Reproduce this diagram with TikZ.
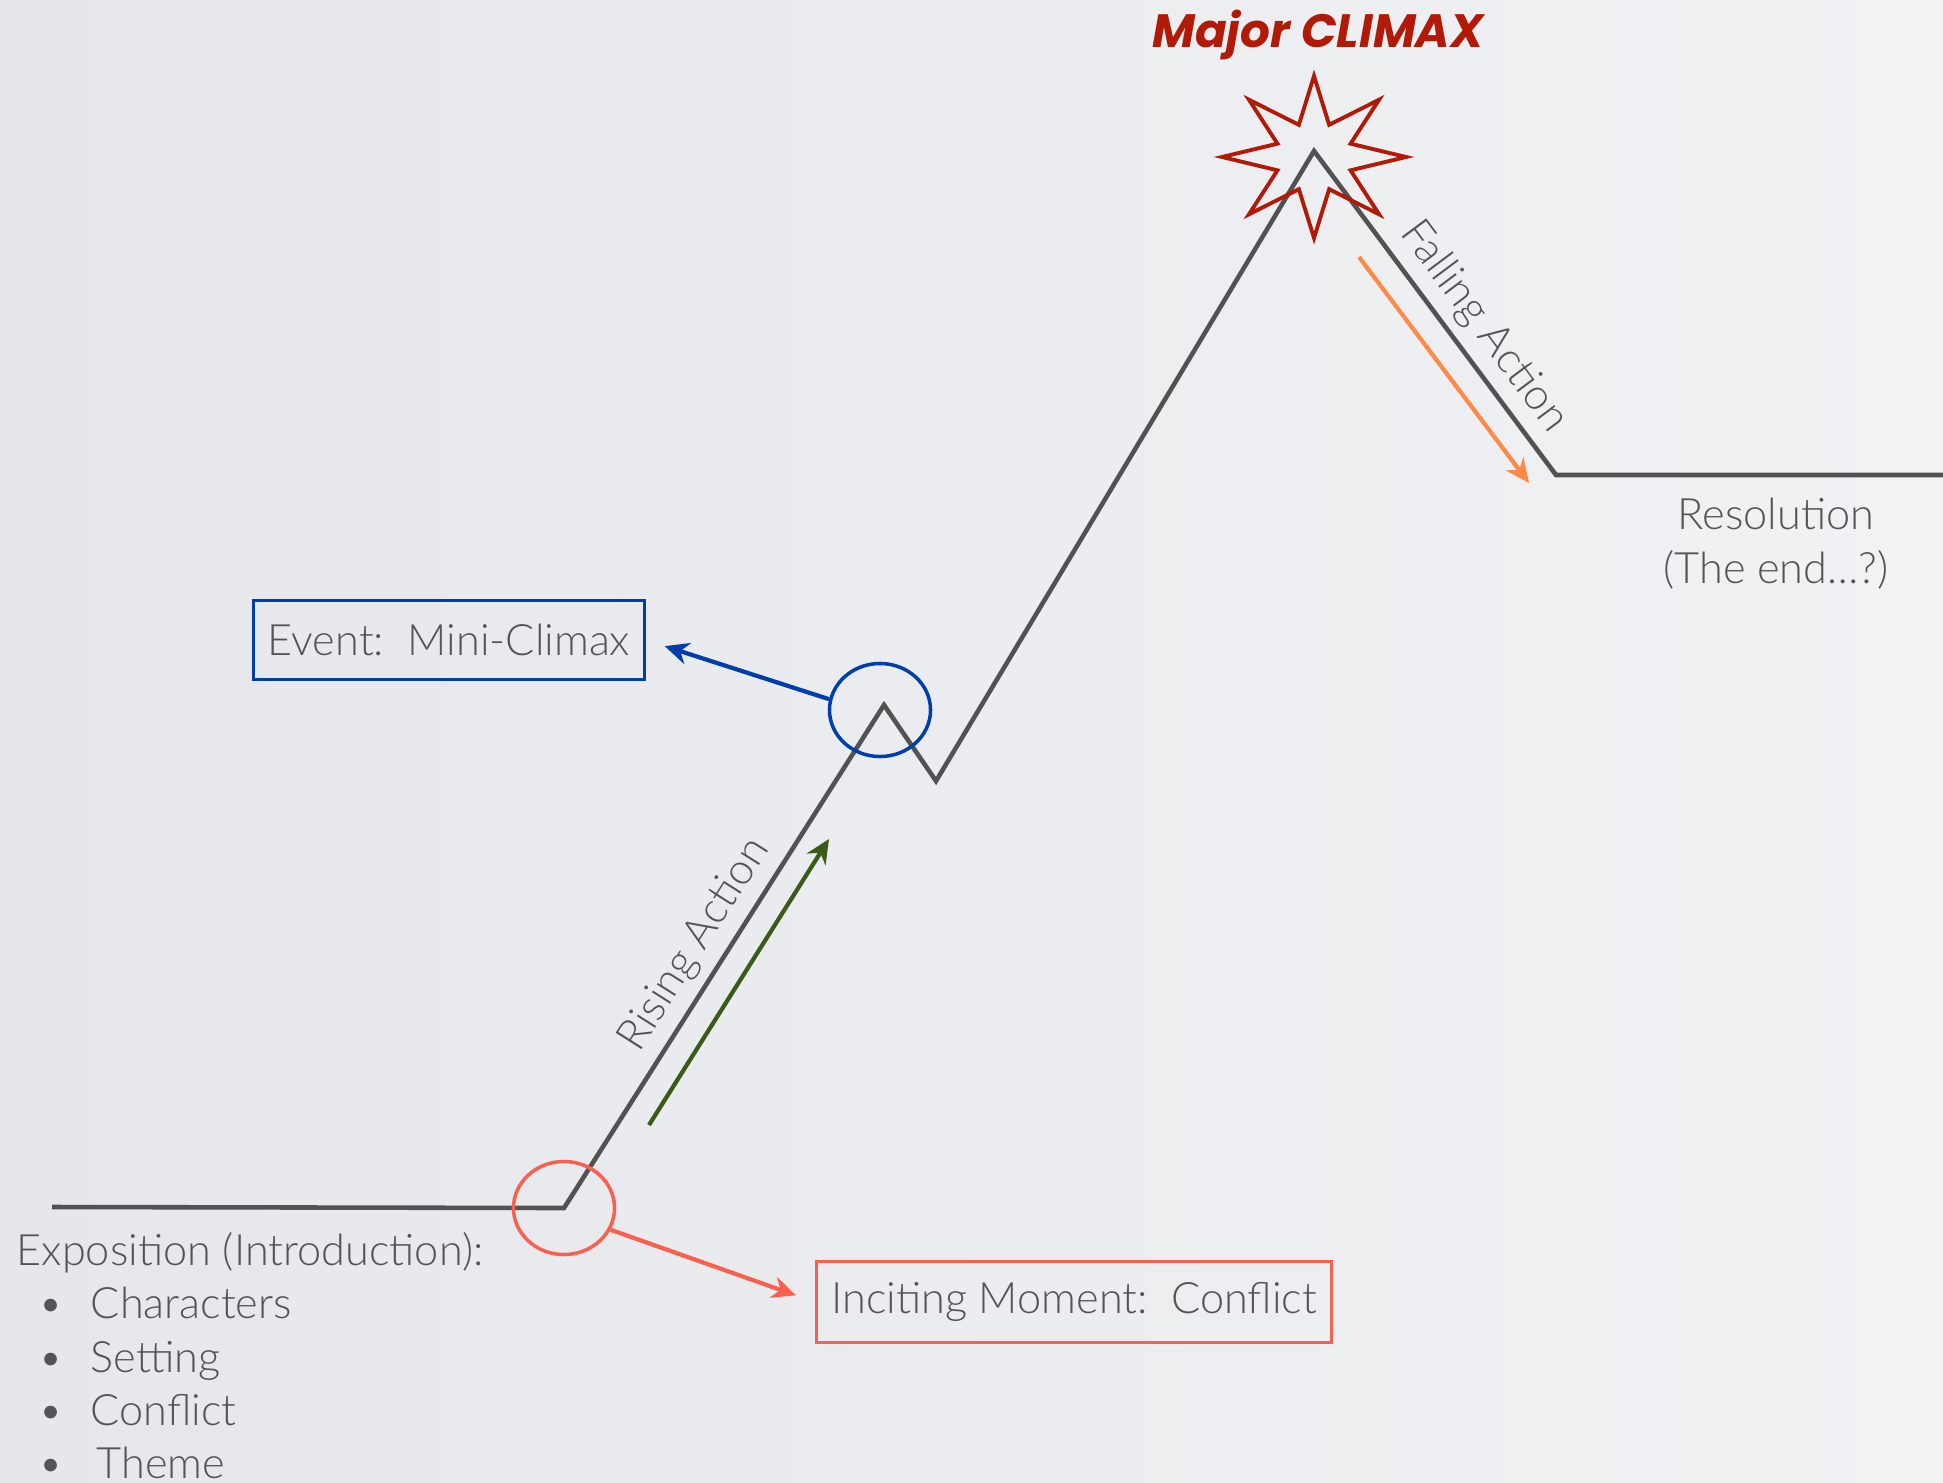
\documentclass[tikz,border=0pt]{standalone}
\usepackage{fontspec}
\setmainfont{Lato Light}
\newfontfamily\climaxfont{Poppins}
\usetikzlibrary{arrows.meta, shapes.geometric}

\definecolor{bgleft}{RGB}{229,231,235}
\definecolor{bgright}{RGB}{241,242,244}
\definecolor{linegray}{RGB}{82,82,82}
\definecolor{txtgray}{RGB}{84,84,84}
\definecolor{climaxred}{RGB}{178,26,8}
\definecolor{evblue}{RGB}{0,62,170}
\definecolor{incred}{RGB}{250,96,78}
\definecolor{risegreen}{RGB}{58,92,24}
\definecolor{fallorange}{RGB}{255,138,72}

\begin{document}
\begin{tikzpicture}[x=0.01cm, y=-0.01cm,
    story/.style={text=txtgray, inner sep=0pt, font=\fontsize{12.3pt}{15.5pt}\selectfont},
    slopetext/.style={story, sloped, above, inner sep=2.5pt},
    plotline/.style={draw=linegray, line width=1.3pt},
    marker/.style={ellipse, line width=1pt, minimum width=1.01cm, minimum height=0.93cm, inner sep=0pt},
    framebox/.style={story, rectangle, line width=0.9pt},
    pointer/.style={line width=1.2pt, shorten >=0.2cm, -{Stealth[length=0.24cm, width=0.22cm]}},
    flow/.style={line width=1.2pt, -{Stealth[length=0.24cm, width=0.22cm]}},
    starline/.style={draw=climaxred, line width=1.1pt}]

    \useasboundingbox (0,0) rectangle (1943,1482);
    \shade[left color=bgleft, right color=bgright] (0,0) rectangle (1943,1482);

    \coordinate (start) at (52,1207);
    \coordinate (incite) at (564,1208);
    \coordinate (minipeak) at (884,705);
    \coordinate (minivalley) at (936,781);
    \coordinate (peak) at (1314,151);
    \coordinate (fallend) at (1556,475);
    \coordinate (finish) at (1943,475);

    \draw[plotline] (start) -- (incite)
        -- node[slopetext, pos=0.49] (rising) {Rising Action} (minipeak)
        -- (minivalley) -- (peak)
        -- node[slopetext, pos=0.6] (falling) {Falling Action} (fallend) -- (finish);

    % climax star
    \draw[starline] plot[samples at={0,...,15}, variable=\k]
        ({1314+92*(1-0.57*mod(\k,2))*cos(90+22.5*\k)}, {157-81*(1-0.57*mod(\k,2))*sin(90+22.5*\k)}) -- cycle;
    \node[story, anchor=base, text=climaxred, font=\climaxfont\bfseries\itshape\fontsize{13.3pt}{16pt}\selectfont] (climax) at (1318,48) {Major CLIMAX};

    \node[marker, draw=incred] (inc) at (incite) {};
    \node[marker, draw=evblue] (mini) at (880,710) {};

    \node[framebox, draw=evblue, minimum width=3.9cm, minimum height=0.79cm] (event) at (449,640) {Event:\ \ Mini-Climax};
    \node[framebox, draw=incred, minimum width=5.15cm, minimum height=0.81cm] (inciting) at (1074,1302) {Inciting Moment:\ \ Conflict};

    \draw[pointer, evblue] (mini.168) -- (event.east);
    \draw[pointer, incred] (inc.-25) -- (inciting.west);

    \coordinate (risetail) at (649,1125);
    \coordinate (risehead) at (829,839);
    \coordinate (falltail) at (1359,257);
    \coordinate (fallhead) at (1529,483);
    \draw[flow, risegreen] (risetail) -- (risehead);
    \draw[flow, fallorange] (falltail) -- (fallhead);

    \node[story, anchor=north, align=center] (resolution) at (1776,497) {Resolution\\(The end…?)};

    \node[story, anchor=base west] (expo) at (16,1265) {Exposition (Introduction):};
    \node[story, anchor=base west] (characters) at (38,1318) {\textbullet\hspace{0.27cm}Characters};
    \node[story, anchor=base west] (setting) at (38,1372) {\textbullet\hspace{0.27cm}Setting};
    \node[story, anchor=base west] (conflict) at (38,1425) {\textbullet\hspace{0.27cm}Conflict};
    \node[story, anchor=base west] (theme) at (38,1478) {\textbullet\hspace{0.33cm}Theme};
\end{tikzpicture}
\end{document}
